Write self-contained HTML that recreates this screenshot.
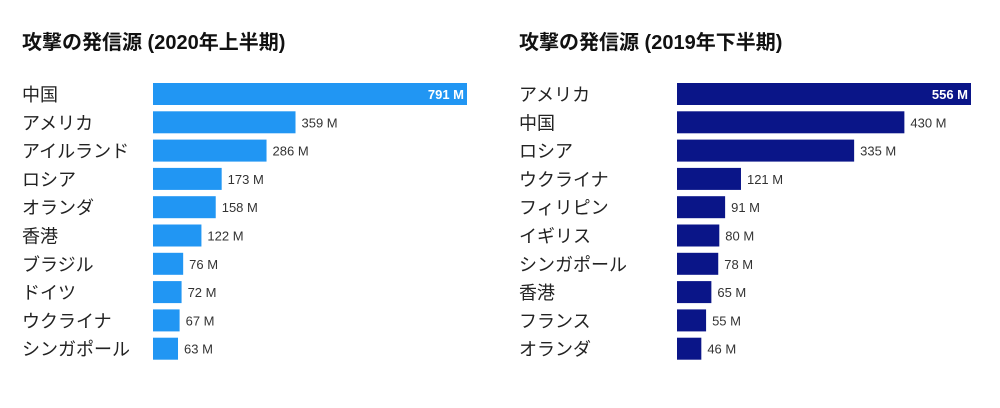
<!DOCTYPE html>
<html><head><meta charset="utf-8"><style>
body{margin:0;background:#fff;width:1000px;height:403px;overflow:hidden;font-family:"Liberation Sans","Noto Sans CJK JP",sans-serif}
</style></head><body>
<svg width="1000" height="403" viewBox="0 0 1000 403">
<g id="c1"></g>
<g id="c2"></g>
</svg>
<script>
const cats1=["中国","アメリカ","アイルランド","ロシア","オランダ","香港","ブラジル","ドイツ","ウクライナ","シンガポール"];
const vals1=[791,359,286,173,158,122,76,72,67,63];
const cats2=["アメリカ","中国","ロシア","ウクライナ","フィリピン","イギリス","シンガポール","香港","フランス","オランダ"];
const vals2=[556,430,335,121,91,80,78,65,55,46];
const title1="攻撃の発信源 (2020年上半期)";
const title2="攻撃の発信源 (2019年下半期)";
const NS="http://www.w3.org/2000/svg";
function mk(p,t,a){const e=document.createElementNS(NS,t);for(const k in a)e.setAttribute(k,a[k]);p.appendChild(e);return e;}
function draw(gid,cats,vals,title,lx,bx,bw,color,pfx){
  const g=document.getElementById(gid);
  const max=Math.max(...vals);
  const x=v=>v/max*bw;
  const y=i=>83+i*28.3;
  const t=mk(g,'text',{x:lx,y:49,'font-size':20,'font-weight':'bold',fill:'#111'});
  t.textContent=title;
  
  
  cats.forEach((c,i)=>{
    const l=mk(g,'text',{x:lx,y:y(i)+18,'font-size':18,fill:'#222'});
    l.textContent=c;
    
    
    const w=x(vals[i]);
    const r=mk(g,'rect',{x:bx,y:y(i),width:w,height:22,fill:color});
    
    
    const inside=vals[i]===max;
    const v=mk(g,'text',{x:inside?bx+w-3:bx+w+6,y:y(i)+16,'font-size':13,fill:inside?'#fff':'#333','font-weight':inside?'bold':'normal','text-anchor':inside?'end':'start'});
    v.textContent=vals[i]+' M';
    
    
  });
}
draw('c1',cats1,vals1,title1,22,153,314,'#2196f3','h1-2020');
draw('c2',cats2,vals2,title2,519,677,294,'#0a1588','h2-2019');
</script>
</body></html>
